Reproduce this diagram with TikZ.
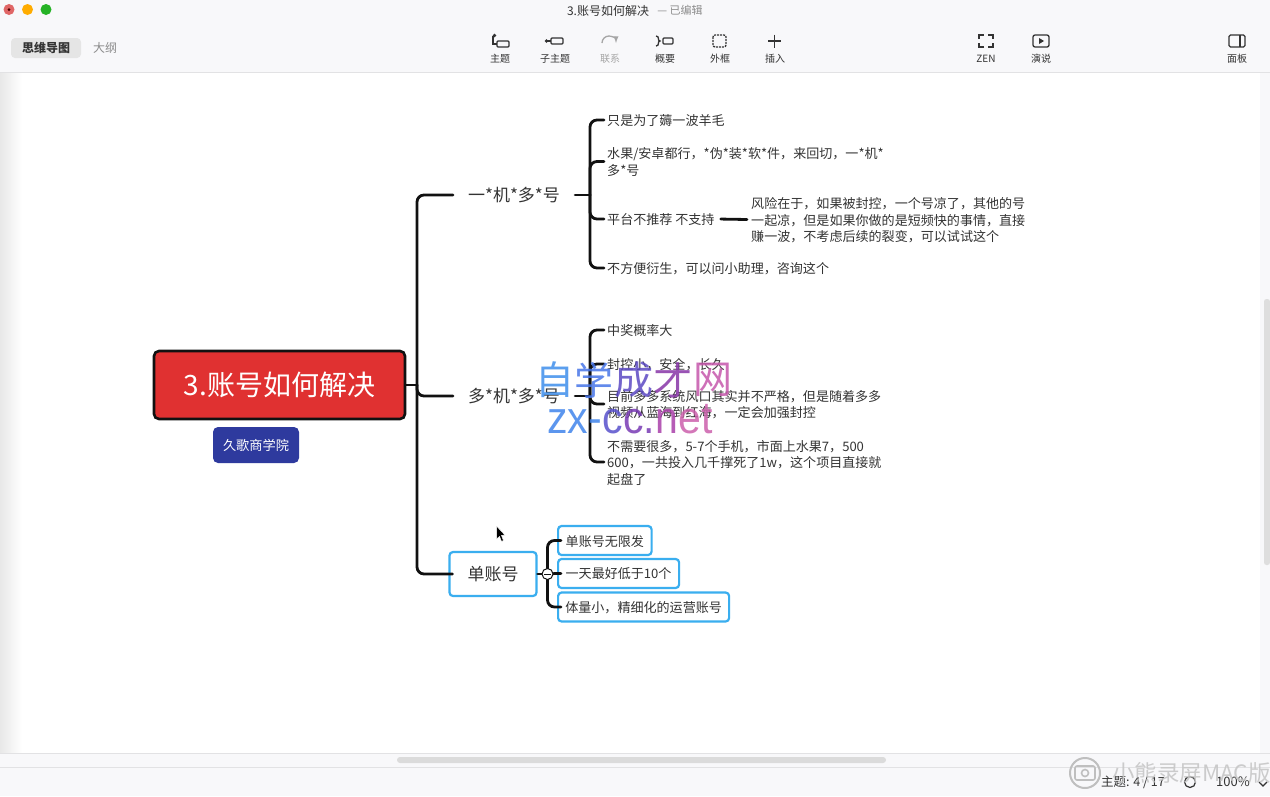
\documentclass[tikz,border=0pt]{standalone}
\usepackage{fontspec}
\setmainfont{Noto Sans CJK SC}
\newfontfamily\markfont{Liberation Sans}
\usetikzlibrary{positioning,shadings}
\definecolor{linecol}{HTML}{111111}
\definecolor{boxblue}{HTML}{3AAEEF}
\definecolor{rootred}{HTML}{E03131}
\definecolor{tagblue}{HTML}{2E3A9E}
\definecolor{chrome}{HTML}{F8F8FA}
\definecolor{chromeline}{HTML}{E2E2E4}
\definecolor{inkgrey}{HTML}{333333}
\tikzset{
	x=1pt,y=-1pt,
	fs/.style={font=\fontsize{#1}{16.5}\selectfont},
	conn/.style={line width=2.8pt,linecol,rounded corners=7pt,line cap=round},
	leaf/.style={anchor=west,inner xsep=3pt,inner ysep=0pt,align=left,text=inkgrey,fs=13.05,text depth=0pt},
	branch/.style={inner xsep=15pt,inner ysep=2pt,text=inkgrey,fs=17},
	bluebox/.style={draw=boxblue,line width=2.2pt,rounded corners=3.5pt,fill=white,text=inkgrey},
	tool/.style={text=inkgrey,fs=10,inner sep=0pt},
	icon/.style={draw=inkgrey,line width=1.3pt},
	mark1/.style={font=\fontsize{39}{39}\selectfont,inner sep=0pt,opacity=.85},
	mark2/.style={font=\markfont\fontsize{41}{41}\selectfont,inner sep=0pt,opacity=.85,anchor=base west},
}
\newcommand{\tallmark}[1]{\scalebox{1}[1.1]{#1}}
\begin{document}
\begin{tikzpicture}
	\useasboundingbox (0,0) rectangle (1270,796);
	\fill[white] (0,0) rectangle (1270,796);
	\shade[left color=black!9,right color=white] (0,72) rectangle (22,753);
	\fill[chrome] (0,0) rectangle (1270,72);
	\draw[chromeline] (0,72.5) -- (1270,72.5);
	\fill[chrome] (0,753) rectangle (1270,796);
	\draw[chromeline] (0,753.5) -- (1270,753.5);
	\draw[chromeline] (0,767.5) -- (1270,767.5);
	\fill[black!14,rounded corners=3pt] (397,757) rectangle (886,763);
	\fill[chrome] (1260,73) rectangle (1270,753);
	\fill[black!13,rounded corners=2.5pt] (1264,299) rectangle (1270,565);

	\fill[red!80!black!60!white] (9,9.5) circle (5.5);
	\fill[orange!65!yellow] (27.5,9.5) circle (5.5);
	\fill[green!65!black!85!white] (46,9.5) circle (5.5);
	\fill[black!70!red] (9,9.5) circle (1.5);
	\node[fs=12,text=inkgrey,inner sep=0pt] (title) at (608,10.5) {3.账号如何解决};
	\node[fs=11,text=black!45,inner sep=0pt,right=8pt of title] (edited) {— 已编辑};
	\fill[black!10,rounded corners=4pt] (11,38) rectangle (81,58);
	\node[fs=12,text=inkgrey,inner sep=0pt,font=\fontsize{12}{14}\selectfont\bfseries] (tabmap) at (46,48) {思维导图};
	\node[fs=12,text=black!45,inner sep=0pt] (tabtext) at (105,48) {大纲};
	\foreach \name/\px/\txt in {topic/500/主题,sub/555/子主题,summary/665/概要,frame/720/外框,insert/775/插入,zen/986/ZEN,show/1041/演说,panel/1237/面板}
		\node[tool] (\name) at (\px,58.5) {\txt};
	\node[tool,text=black!35] (rel) at (610,58.5) {联系};
	\draw[icon,rounded corners=1pt] (497,41) rectangle (509,47);
	\draw[icon] (493,36) -- (493,44) -- (497,44);
	\fill[inkgrey] (494.5,35.5) circle (1.8);
	\draw[icon,rounded corners=1pt] (551,38) rectangle (563,44);
	\fill[inkgrey] (546.5,41) circle (1.8);
	\draw[inkgrey,line width=1.3pt] (546.5,41) -- (551,41);
	\draw[black!35,line width=1.3pt,-latex] (602,43) arc[start angle=180,end angle=0,x radius=7,y radius=-7];
	\draw[icon] (656,36) .. controls (660,36) and (657,41) .. (660,41) .. controls (657,41) and (660,46) .. (656,46);
	\draw[icon,rounded corners=1pt] (663,38) rectangle (673,44);
	\draw[icon,dash pattern=on 2pt off 1pt,rounded corners=2pt] (713,35) rectangle (726,47);
	\draw[icon] (768,41) -- (781,41) (774.5,34.5) -- (774.5,47.5);
	\draw[icon] (979,39) |- (984,35) (988,35) -| (993,39) (993,43) |- (988,47) (984,47) -| (979,43);
	\draw[icon,rounded corners=2pt] (1033,35) rectangle (1049,47);
	\fill[inkgrey] (1039,38) -- (1039,44) -- (1044,41) -- cycle;
	\draw[icon,rounded corners=1.5pt] (1229,35) rectangle (1245,47);
	\draw[icon] (1240,35) -- (1240,47);

	\node[draw=linecol,line width=2.6pt,fill=rootred,rounded corners=5pt,minimum width=251pt,minimum height=68pt,text=white,fs=28,inner sep=0pt] (root) at (279.5,385) {3.账号如何解决};
	\node[fill=tagblue,rounded corners=5pt,minimum width=86pt,minimum height=36pt,text=white,fs=13.2,inner sep=0pt] (tag) at (256,445) {久歌商学院};

	\node[branch] (b1) at (514,195) {一*机*多*号};
	\node[branch] (b2) at (514,396) {多*机*多*号};
	\node[bluebox,minimum width=87pt,minimum height=44pt,inner sep=0pt,fs=17] (b3) at (493,574) {单账号};

	\node[leaf] (a1) at (604,120) {只是为了薅一波羊毛};
	\node[leaf] (a2) at (604,161.5) {水果/安卓都行，*伪*装*软*件，来回切，一*机*\\多*号};
	\node[leaf] (a3) at (604,219) {平台不推荐 不支持};
	\node[leaf] (a4) at (604,268) {不方便衍生，可以问小助理，咨询这个};
	\node[leaf,inner xsep=4pt] (a5) at (747,219.5) {风险在于，如果被封控，一个号凉了，其他的号\\一起凉，但是如果你做的是短频快的事情，直接\\赚一波，不考虑后续的裂变，可以试试这个};
	\node[leaf] (c1) at (604,330) {中奖概率大};
	\node[leaf] (c2) at (604,364) {封控小，安全，长久};
	\node[leaf] (c3) at (604,404) {目前多多系统风口其实并不严格，但是随着多多\\视频从蓝海到红海，一定会加强封控};
	\node[leaf] (c4) at (604,462) {不需要很多，5-7个手机，市面上水果7，500\\600，一共投入几千撑死了1w，这个项目直接就\\起盘了};
	\node[bluebox,leaf,inner xsep=0pt,minimum width=93.5pt,minimum height=29pt] (d1) at (557,540.5) {单账号无限发};
	\node[bluebox,leaf,inner xsep=0pt,minimum width=121pt,minimum height=29pt] (d2) at (557,573.5) {一天最好低于10个};
	\node[bluebox,leaf,inner xsep=0pt,minimum width=171pt,minimum height=29pt] (d3) at (557,607) {体量小，精细化的运营账号};

	\coordinate (trunk) at (417,385);
	\coordinate (s1) at (590,195);
	\coordinate (s2) at (590,396);
	\coordinate (s3) at (547.5,574);
	\draw[conn] (root.east) -- (trunk);
	\draw[conn] (trunk) |- (b1.west);
	\draw[conn] (trunk) |- (b2.west);
	\draw[conn] (trunk) |- ([xshift=4pt]b3.west);
	\draw[conn] (b1.east) -- (s1);
	\draw[conn] (b2.east) -- (s2);
	\foreach \leafname in {a1,a2,a3,a4}
		\draw[conn] (s1) |- (\leafname.west);
	\foreach \leafname in {c1,c2,c3,c4}
		\draw[conn] (s2) |- (\leafname.west);
	\draw[conn,shorten <=3pt] (a3.east) -- (a5.west);
	\draw[conn] (b3.east) -- (s3);
	\foreach \leafname in {d1,d2,d3}
		\draw[conn] (s3) |- ([xshift=4pt]\leafname.west);
	\node[circle,draw=linecol,fill=white,line width=1pt,minimum size=11pt,inner sep=0pt] (fold) at (s3) {};
	\draw[line width=1pt,linecol] ([xshift=-3.5pt]fold.center) -- ([xshift=3.5pt]fold.center);

	\fill[black,draw=white,line width=.5pt] (496.5,526) -- (496.5,539) -- (499.5,536.5) -- (501.5,541.5) -- (503.5,540.5) -- (501.5,535.5) -- (505,535) -- cycle;

	\node[mark1,text={rgb,255:red,63;green,143;blue,236}] (w1) at (555,380) {自};
	\node[mark1,text={rgb,255:red,72;green,118;blue,232},right=0pt of w1] (w2) {学};
	\node[mark1,text={rgb,255:red,92;green,74;blue,196},right=0pt of w2] (w3) {成};
	\node[mark1,text={rgb,255:red,136;green,54;blue,168},right=0pt of w3] (w4) {才};
	\node[mark1,text={rgb,255:red,198;green,88;blue,172},right=0pt of w4] (w5) {网};
	\node[mark2,text={rgb,255:red,64;green,132;blue,236}] (z1) at (547,433) {\tallmark{zx-}};
	\node[mark2,text={rgb,255:red,88;green,80;blue,204}] (z2) at (z1.base east) {\tallmark{c}};
	\node[mark2,text={rgb,255:red,120;green,58;blue,180}] (z3) at (z2.base east) {\tallmark{c.}};
	\node[mark2,text={rgb,255:red,170;green,64;blue,170}] (z4) at (z3.base east) {\tallmark{n}};
	\node[mark2,text={rgb,255:red,204;green,96;blue,172}] (z5) at (z4.base east) {\tallmark{et}};

	\node[fs=12.5,text=inkgrey,inner sep=0pt,anchor=west] (count) at (1101,782) {主题: 4 / 17};
	\node[fs=13,text=inkgrey,inner sep=0pt,anchor=west] (zoomval) at (1216,782) {100\%};
	\draw[inkgrey,line width=1.2pt] (1190,782) circle (5.5);
	\draw[inkgrey,line width=1.3pt] (1259,782) -- (1263,786) -- (1267,782);
	\draw[black!25,line width=2pt] (1085,773) circle (15);
	\draw[black!25,line width=1.6pt,rounded corners=2pt] (1075,766) rectangle (1095,780);
	\draw[black!25,line width=1.6pt] (1085,773) circle (3.5);
	\node[fs=22.5,text=black!22,inner sep=0pt,anchor=west,opacity=.9] (recmark) at (1112,773) {小熊录屏MAC版};
\end{tikzpicture}
\end{document}
